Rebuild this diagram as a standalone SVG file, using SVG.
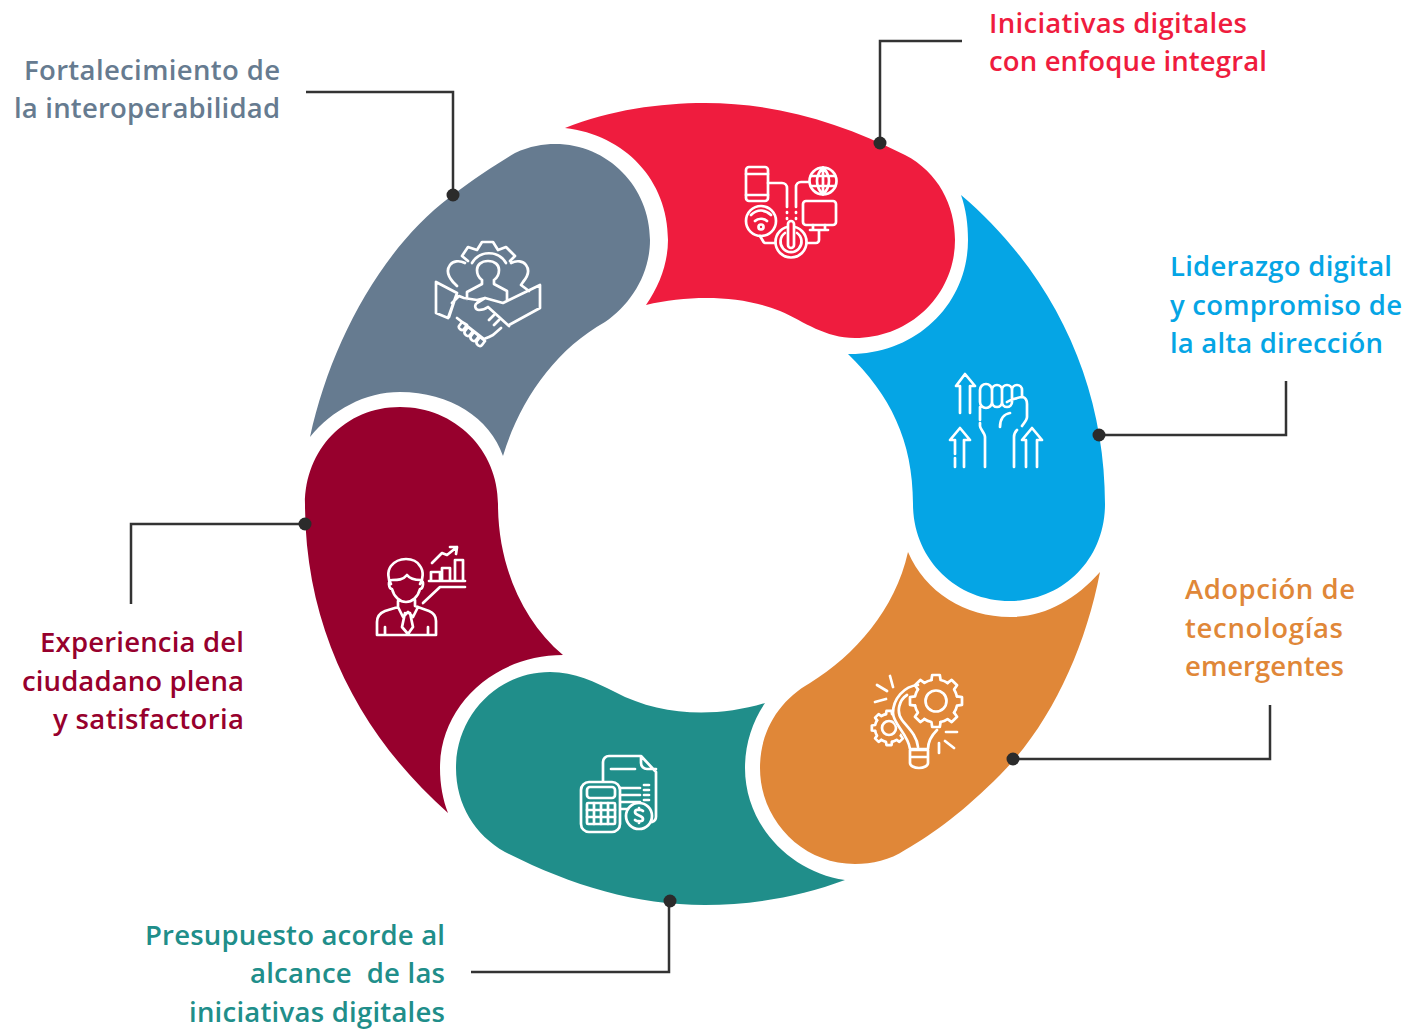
<svg xmlns="http://www.w3.org/2000/svg" width="1423" height="1032" viewBox="0 0 1423 1032">
<style>
text{font-family:"Open Sans","Noto Sans",sans-serif;font-size:27.5px;font-weight:650;white-space:pre}
.r{text-anchor:end}
.ic{fill:none;stroke:#fff;stroke-width:2.7;stroke-linecap:round;stroke-linejoin:round}
.ln{fill:none;stroke:#333;stroke-width:2.5}
.dot{fill:#2b2b2b}
.or{fill:#e08738}
</style>
<defs>
<path id="tooth" fill="none" stroke="#fff" stroke-width="2.7" stroke-linejoin="round" stroke-linecap="round" vector-effect="non-scaling-stroke" d="M21 -4.600L26 -3.800L26 3.800L21 4.600A21.500 21.500 0 0 1 18 11.700"/>
<g id="gear">
<use href="#tooth"/><use href="#tooth" transform="rotate(45)"/><use href="#tooth" transform="rotate(90)"/><use href="#tooth" transform="rotate(135)"/><use href="#tooth" transform="rotate(180)"/><use href="#tooth" transform="rotate(225)"/><use href="#tooth" transform="rotate(270)"/><use href="#tooth" transform="rotate(315)"/>
</g>
</defs>
<rect width="1423" height="1032" fill="#fff"/>
<g id="node-red">
<path fill="#ef1c3e" d="M565 128C610 110 660 103 705 103C775 103 840 122 905 155C938 172 955 205 955 240C955 295 910 338 855 338C825 338 805 322 780 311C740 295 690 295 646 305C660 285 668 262 668 240C668 180 625 135 565 128Z"/>
<rect class="ic" x="746" y="167" width="22" height="34" rx="3"/>
<path class="ic" d="M746 174h22M746 195h22M768 183h14a5 5 0 0 1 5 5v19M796 207v-20a5 5 0 0 1 5-5h7M787 212v1M787 218v1M796 212v1M796 218v1"/>
<circle class="ic" cx="823" cy="181" r="13.500"/>
<path class="ic" d="M811 176h24M811 186h24M823 167.500v27M823 167.500c-8 8-8 19 0 27M823 167.500c8 8 8 19 0 27"/>
<rect class="ic" x="803" y="201" width="33" height="24" rx="3"/>
<path class="ic" d="M813 225v5M825 225v5M810 230h18M819 231v9a3 3 0 0 1-3 3h-9M760 236l3 5a3 3 0 0 0 2 2h10"/>
<circle class="ic" cx="761" cy="221" r="15"/>
<path class="ic" d="M751 215c6-6 14-6 20 0M755 221c3-3 9-3 12 0"/>
<circle class="ic" cx="761" cy="227" r="2.500"/>
<circle class="ic" cx="791" cy="242" r="15.500"/>
<path class="ic" d="M785 233a10.500 10.500 0 1 0 12 0"/>
<path class="ic" d="M788 224a3 3 0 0 1 6 0v21a3 3 0 0 1-6 0Z" style="fill:#ef1c3e"/>
</g>
<g id="node-blue">
<path fill="#05a5e5" d="M961 195C1055 275 1105 385 1105 504C1105 560 1062 601 1010 601C955 601 913 558 913 504C913 440 890 395 848 354C915 355 968 305 968 240C968 224 966 209 961 195Z"/>
<path class="ic" d="M960 413v-27h-4l9-12 10 12h-5v27M980 390a6 6 0 0 1 12 0v12a6 6 0 0 1-12 0ZM992 390a5 5 0 0 1 10 0v12a5 5 0 0 1-10 0ZM1002 390a5 5 0 0 1 10 0v12a5 5 0 0 1-10 0ZM1012 396v-6a5 5 0 0 1 10 0v6M1007 402c3-2 12-5 16-5 3 1 4 4 4 7v13c0 3-3 6-5 9M1000 427c0-8 4-13 10-14M980 407v13M980 423v3c0 3 5 7 5 11v30M1014 467v-30c0-3 1-5 3-7M955 454v-14h-5l10-12 10 12h-6v27M955 458v9M1026 467v-27h-4l10-12 10 12h-5v27"/>
</g>
<g id="node-orange">
<path fill="#e08738" d="M1100 572C1085 650 1050 725 1000 775C965 810 935 833 905 850C890 860 872 864 855 864C802 864 760 820 760 768C760 730 780 700 810 683C855 655 895 610 908 552C925 592 965 617 1010 617C1045 617 1075 600 1100 572Z"/>
<use href="#gear" transform="translate(889 728) scale(.66)"/>
<circle class="ic" cx="889" cy="728" r="7"/>
<path class="or" d="M918 680L893 700L893 720L910 748H930L945 725L945 690Z"/>
<path class="ic" d="M877 685l10 6M890 676l3 11M875 702l11-3M946 732h11M945 741l9 7M939 743v10M918 685c-14 1-25 14-25 28 0 11 15 21 17 36h18c0-6 3-13 9-19M907 695c-8 5-11 17-5 25 5 7 15 15 16 27M910 750h18v13a9 5 0 0 1-18 0ZM910 757h18"/>
<circle class="or" cx="936" cy="701" r="21"/>
<use href="#gear" transform="translate(936 701)"/>
<circle class="ic" cx="936" cy="701" r="10.500"/>
</g>
<g id="node-teal">
<path fill="#208e8a" d="M845 880C800 897 750 905 705 905C635 905 570 885 505 852C475 835 456 805 456 768C456 715 498 672 550 672C575 672 595 682 615 692C660 716 715 718 765 703C752 722 745 745 745 768C745 825 790 872 845 880Z"/>
<path class="ic" d="M603 781v-19a6 6 0 0 1 6-6h32l15 16v44a6 6 0 0 1-4 6M641 756v7a6 6 0 0 0 6 6h9M611 769h24M621 788h19M621 795h19M621 802h19M621 809h7M644 785h5M644 790h5M644 795h5M644 800h5"/>
<rect class="ic" x="581" y="782" width="39" height="50" rx="8"/>
<rect class="ic" x="587" y="787" width="28" height="11" rx="3"/>
<rect class="ic" x="587" y="803" width="28" height="21" rx="1"/>
<path class="ic" d="M594 803v21M601 803v21M608 803v21M587 810h28M587 817h28"/>
<circle class="ic" cx="639" cy="816" r="13"/>
<path class="ic" d="M643 811c-2-2-8-2-8 1 0 4 8 3 8 7 0 3-6 3-8 1M639 808v2M639 821v2"/>
</g>
<g id="node-crimson">
<path fill="#97002d" d="M448 813C360 735 305 630 305 504C305 450 345 407 400 407C455 407 498 450 498 504C498 565 522 620 563 655C495 655 440 705 440 768C440 785 443 800 448 813Z"/>
<path class="ic" d="M392 580c-5 0-3 9 0 9 2 8 8 13 14 13s12-5 14-13c3 0 5-9 0-9M391 584c-3-4-4-13 0-18 4-5 10-7 15-7s11 2 14 7c4 5 3 14 0 18M392 580c6 0 11 0 15-5 3 4 8 5 14 5M398 601v6l-13 4c-5 2-8 6-8 11v13h59v-14c0-4-2-8-7-10l-14-5v-6M398 607l5 10 5-5 5 5 5-10M405 613l-3 14 6 7 5-7-3-14M385 635v-8M428 635v-8M423 603l17-16h25M429 581h36M431 581v-9h9v9M442 581v-13h8v13M455 581v-21h8v21M432 563l10-10 5 2 10-8M450 547h7l-1 7"/>
</g>
<g id="node-gray">
<path fill="#667b90" d="M310 437C330 345 380 250 450 197C475 178 498 163 515 153C530 146 543 144 555 144C608 144 650 187 650 240C650 275 630 305 605 322C555 350 520 400 503 456C490 418 450 392 400 392C365 392 332 410 310 437Z"/>
<path class="ic" d="M462 256l6-9 9 3 5-8h11l5 8 8-3 9 9-5 5M462 256l6 5M472 263c8-13 26-13 34 0M482 280v4l-15 8v7M494 280v4l13 7v9M482 280c-3-2-5-6-5-10 0-5 4-9 11-9s11 4 11 9c0 4-2 8-5 10M453 282c-6-7-6-13-3-17 3-4 9-5 15-2M523 282c6-7 6-13 3-17-3-4-9-5-15-2M453 282l4 4M523 282l-2 3 8 6M436 282v31l12 5 9-25ZM540 285v23l-31 17M540 285l-37 18-18-5-8 2-13-2-5-2-7 7M485 298l-8 5c-3 2-2 7 2 7 5 0 9-3 9-3l21 19M449 317l8-24M457 318l27 21 5-2M462 322l-3 4c-1 2 3 6 5 3l3-4ZM468 327l-3 4c-2 3 3 7 5 4l3-4ZM474 332l-3 4c-2 3 3 7 5 4l3-4ZM480 337l-3 4c-2 3 3 7 5 4l3-4ZM499 320l-5 5M494 315l-5 5M501 328l-8 7-4 2"/>
</g>
<g id="connectors">
<path class="ln" d="M962 41H880V143"/><circle class="dot" cx="880" cy="143" r="6.500"/>
<path class="ln" d="M1286 381V435H1099"/><circle class="dot" cx="1099" cy="435" r="6.500"/>
<path class="ln" d="M1270 705V759H1013"/><circle class="dot" cx="1013" cy="759" r="6.500"/>
<path class="ln" d="M471 972H669V901"/><circle class="dot" cx="670" cy="901" r="6.500"/>
<path class="ln" d="M131 604V524H305"/><circle class="dot" cx="305" cy="524" r="6.500"/>
<path class="ln" d="M306 92H453V195"/><circle class="dot" cx="453" cy="195" r="6.500"/>
</g>
<g id="labels">
<text x="989" y="33" fill="#ef1c3e" textLength="258">Iniciativas digitales</text>
<text x="989" y="71" fill="#ef1c3e" textLength="278">con enfoque integral</text>
<text x="1170" y="276" fill="#05a5e5" textLength="222">Liderazgo digital</text>
<text x="1170" y="315" fill="#05a5e5" textLength="232">y compromiso de</text>
<text x="1170" y="353" fill="#05a5e5" textLength="213">la alta dirección</text>
<text x="1185" y="599" fill="#e08738" textLength="170">Adopción de</text>
<text x="1185" y="638" fill="#e08738" textLength="158">tecnologías</text>
<text x="1185" y="676" fill="#e08738" textLength="159">emergentes</text>
<text class="r" x="445" y="945" fill="#208e8a" textLength="300">Presupuesto acorde al</text>
<text class="r" x="445" y="983" fill="#208e8a" textLength="195">alcance  de las</text>
<text class="r" x="445" y="1022" fill="#208e8a" textLength="256">iniciativas digitales</text>
<text class="r" x="244" y="652" fill="#97002d" textLength="204">Experiencia del</text>
<text class="r" x="244" y="691" fill="#97002d" textLength="222">ciudadano plena</text>
<text class="r" x="244" y="729" fill="#97002d" textLength="191">y satisfactoria</text>
<text class="r" x="280" y="80" fill="#667b90" textLength="256">Fortalecimiento de</text>
<text class="r" x="280" y="118" fill="#667b90" textLength="266">la interoperabilidad</text>
</g>
</svg>
